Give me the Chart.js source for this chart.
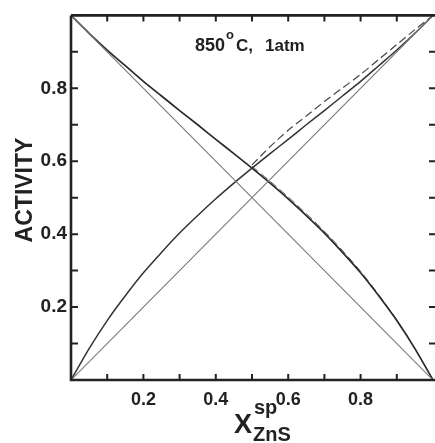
<!DOCTYPE html>
<html>
<head>
<meta charset="utf-8">
<script src="https://cdn.jsdelivr.net/npm/chart.js@4.4.0/dist/chart.umd.min.js"></script>
<style>
  html, body { margin: 0; padding: 0; background: #fff; }
</style>
</head>
<body>
<canvas id="myChart" width="435" height="443"></canvas>
<script>
// composition of sphalerite, mole fraction ZnS
const xZnS = [0, 0.05, 0.1, 0.15, 0.2, 0.25, 0.3, 0.35, 0.4, 0.45, 0.5, 0.55, 0.6, 0.65, 0.7, 0.75, 0.8, 0.85, 0.9, 0.95, 1];
// activity of ZnS (solid, rising curve)
const aZnS = [0, 0.086, 0.163, 0.231, 0.294, 0.35, 0.403, 0.451, 0.497, 0.54, 0.581, 0.621, 0.66, 0.7, 0.739, 0.779, 0.819, 0.862, 0.905, 0.951, 1];
// activity of FeS (solid, falling curve)
const aFeS = [1, 0.951, 0.905, 0.862, 0.819, 0.779, 0.739, 0.7, 0.66, 0.621, 0.581, 0.54, 0.497, 0.451, 0.403, 0.35, 0.294, 0.231, 0.163, 0.086, 0];

// dashed curves (second model), only where they leave the solid ones
const xDash = [0.5, 0.55, 0.6, 0.65, 0.7, 0.75, 0.8, 0.85, 0.9, 0.95, 1];
const aZnSDash = [0.59, 0.64, 0.685, 0.724, 0.764, 0.801, 0.838, 0.879, 0.92, 0.961, 1];
const aFeSDash = [0.586, 0.545, 0.502, 0.456, 0.408, 0.355, 0.298, 0.234, 0.165, 0.087, 0];

// ideal (Raoult) lines
const xIdeal = [0, 1];
const aZnSIdeal = [0, 1];
const aFeSIdeal = [1, 0];

const xTickLabels = [0.2, 0.4, 0.6, 0.8];
const yTickLabels = [0.2, 0.4, 0.6, 0.8];
const tickMarks = [0.1, 0.2, 0.3, 0.4, 0.5, 0.6, 0.7, 0.8, 0.9];

const FONT = "'Liberation Sans', Arial, sans-serif";
const INK = "#222";

function pts(xs, ys) {
  return xs.map((x, i) => ({ x: x, y: ys[i] }));
}

function lineSet(xs, ys, color, width, dash) {
  return {
    data: pts(xs, ys),
    showLine: true,
    borderColor: color,
    borderWidth: width,
    borderDash: dash || [],
    pointRadius: 0,
    tension: 0.25,
    fill: false
  };
}

// frame, inward ticks and the texts that chart.js can't lay out
const decorPlugin = {
  id: "decor",
  afterDraw(chart) {
    const ctx = chart.ctx;
    const a = chart.chartArea;
    const sx = chart.scales.x;
    const sy = chart.scales.y;
    ctx.save();
    ctx.strokeStyle = INK;
    ctx.lineWidth = 2.6;
    ctx.beginPath();
    ctx.moveTo(a.left, a.top);
    ctx.lineTo(435, a.top);
    ctx.moveTo(a.left, a.top);
    ctx.lineTo(a.left, a.bottom);
    ctx.lineTo(435, a.bottom);
    ctx.stroke();

    ctx.lineWidth = 2;
    ctx.beginPath();
    tickMarks.forEach((v) => {
      let px = sx.getPixelForValue(v);
      ctx.moveTo(px, a.bottom);
      ctx.lineTo(px, a.bottom - 6);
      ctx.moveTo(px, a.top);
      ctx.lineTo(px, a.top + 6);
      let py = sy.getPixelForValue(v);
      ctx.moveTo(a.left, py);
      ctx.lineTo(a.left + 7, py);
      ctx.moveTo(435, py);
      ctx.lineTo(429, py);
    });
    ctx.stroke();

    ctx.fillStyle = INK;
    // y title
    ctx.save();
    ctx.translate(26, 190);
    ctx.rotate(-Math.PI / 2);
    ctx.font = "bold 23px " + FONT;
    ctx.textAlign = "center";
    ctx.textBaseline = "middle";
    ctx.fillText("ACTIVITY", 0, 0);
    ctx.restore();

    // x title X^sp_ZnS
    ctx.textAlign = "left";
    ctx.textBaseline = "alphabetic";
    ctx.font = "bold 27px " + FONT;
    ctx.fillText("X", 234, 433);
    ctx.font = "bold 20px " + FONT;
    ctx.fillText("sp", 254, 414);
    ctx.fillText("ZnS", 253, 441);

    // condition note
    ctx.font = "bold 18px " + FONT;
    ctx.fillText("850", 195, 51);
    ctx.font = "bold 13px " + FONT;
    ctx.fillText("o", 226, 39);
    ctx.font = "bold 17px " + FONT;
    ctx.fillText("C,", 236, 51);
    ctx.fillText("1atm", 265, 51);
    ctx.restore();
  }
};

new Chart(document.getElementById("myChart"), {
  type: "scatter",
  data: {
    datasets: [
      lineSet(xIdeal, aZnSIdeal, "#7a7a7a", 1.1),
      lineSet(xIdeal, aFeSIdeal, "#7a7a7a", 1.1),
      lineSet(xZnS, aZnS, "#333", 1.5),
      lineSet(xZnS, aFeS, "#2a2a2a", 1.7),
      lineSet(xDash, aZnSDash, "#444", 1.2, [8, 4]),
      lineSet(xDash, aFeSDash, "#555", 1.0, [8, 4])
    ]
  },
  plugins: [decorPlugin],
  options: {
    responsive: false,
    animation: false,
    devicePixelRatio: 1,
    layout: { padding: { top: 13, right: 2, left: 0, bottom: 0 } },
    plugins: { legend: { display: false }, tooltip: { enabled: false } },
    scales: {
      x: {
        type: "linear",
        min: 0,
        max: 1,
        grid: { display: false, drawTicks: false },
        border: { display: false },
        afterBuildTicks: (s) => { s.ticks = xTickLabels.map((v) => ({ value: v })); },
        afterFit: (s) => { s.height = 63; },
        ticks: {
          autoSkip: false,
          maxRotation: 0,
          padding: 9,
          color: INK,
          font: { family: FONT, size: 18, weight: "bold" },
          callback: (v) => v.toFixed(1)
        }
      },
      y: {
        type: "linear",
        min: 0,
        max: 1,
        grid: { display: false, drawTicks: false },
        border: { display: false },
        afterBuildTicks: (s) => { s.ticks = yTickLabels.map((v) => ({ value: v })); },
        afterFit: (s) => { s.width = 71; },
        ticks: {
          autoSkip: false,
          padding: 4,
          color: INK,
          font: { family: FONT, size: 19, weight: "bold" },
          callback: (v) => v.toFixed(1)
        }
      }
    }
  }
});
</script>
</body>
</html>
